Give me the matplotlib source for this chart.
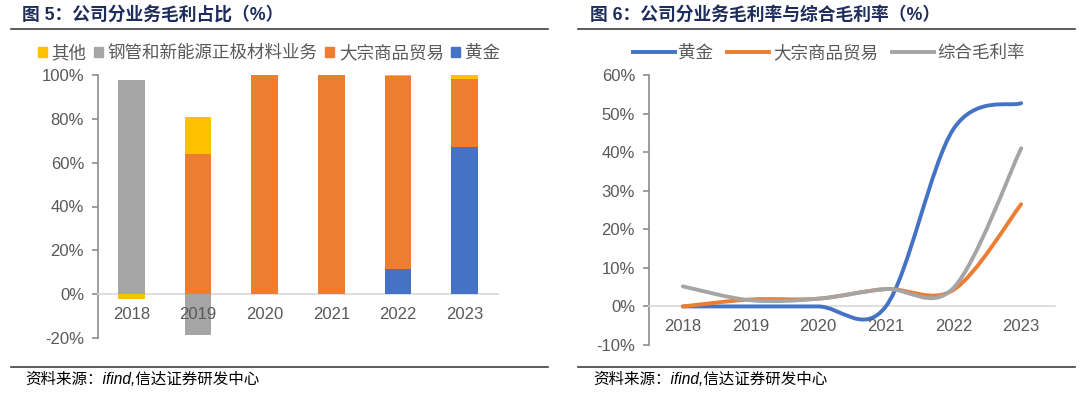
import numpy as np
import matplotlib.pyplot as plt
from matplotlib.lines import Line2D
from matplotlib.path import Path
from matplotlib.patches import PathPatch

plt.rcParams['font.family'] = ['Liberation Sans', 'Noto Sans CJK SC', 'DejaVu Sans']

years = ['2018', '2019', '2020', '2021', '2022', '2023']

# 图5 毛利占比 (%)
share_names = ['其他', '钢管和新能源正极材料业务', '大宗商品贸易', '黄金']
share_other = [-2.0, 16.8, 0.0, 0.0, 0.3, 1.6]
share_pipe = [97.8, -18.8, 0.0, 0.0, 0.0, 0.0]
share_trade = [0.0, 64.0, 100.0, 100.0, 88.3, 31.4]
share_gold = [0.0, 0.0, 0.0, 0.0, 11.4, 67.0]

# 图6 毛利率 (%)
margin_names = ['黄金', '大宗商品贸易', '综合毛利率']
margin_gold = [0.0, 0.0, 0.0, 0.0, 46.0, 52.7]
margin_trade = [0.0, 1.8, 2.0, 4.5, 4.3, 26.5]
margin_total = [5.2, 1.6, 2.0, 4.5, 4.8, 41.0]

c_yellow = '#FFC000'
c_gray = '#A5A5A5'
c_orange = '#ED7D31'
c_blue = '#4472C4'
tick_c = '#595959'
title_c = '#1F2D5C'
W, H = 1080, 395


def fx(px):
    return px / W


def fy(py):
    return 1 - py / H


def smooth_path(xs, ys):
    # Excel-style smoothed line: cubic bezier through each point
    pts = np.column_stack([xs, ys]).astype(float)
    n = len(pts)
    verts = [pts[0]]
    codes = [Path.MOVETO]
    for i in range(n - 1):
        p0 = pts[i - 1] if i > 0 else pts[i]
        p1 = pts[i]
        p2 = pts[i + 1]
        p3 = pts[i + 2] if i + 2 < n else pts[i + 1]
        verts += [p1 + (p2 - p0) / 6, p2 - (p3 - p1) / 6, p2]
        codes += [Path.CURVE4] * 3
    return Path(verts, codes)


def style_axis(ax):
    for s in ['top', 'right']:
        ax.spines[s].set_visible(False)
    ax.spines['left'].set_color('#8C8C8C')
    ax.spines['left'].set_linewidth(1.2)
    ax.spines['bottom'].set_position(('data', 0))
    ax.spines['bottom'].set_color('#D9D9D9')
    ax.spines['bottom'].set_linewidth(1.2)
    ax.tick_params(axis='y', colors='#8C8C8C', labelcolor=tick_c, labelsize=12,
                   length=4, width=1.2, direction='out', pad=6)
    ax.tick_params(axis='x', length=0, labelcolor=tick_c, labelsize=12, pad=9)
    ax.xaxis.set_zorder(4)


fig = plt.figure(figsize=(W / 100, H / 100), dpi=100)

# ---------------- left: stacked bars ----------------
ax1 = fig.add_axes([fx(98), fy(338), fx(400), 263 / H])
x = np.arange(len(years))
pos_bottom = np.zeros(len(years))
neg_bottom = np.zeros(len(years))
series = [(share_gold, c_blue), (share_trade, c_orange),
          (share_pipe, c_gray), (share_other, c_yellow)]
for vals, col in series:
    v = np.array(vals)
    bottom = np.where(v >= 0, pos_bottom, neg_bottom)
    ax1.bar(x, v, 0.4, bottom=bottom, color=col, zorder=3)
    pos_bottom += np.where(v >= 0, v, 0)
    neg_bottom += np.where(v < 0, v, 0)
ax1.set_xlim(-0.5, 5.5)
ax1.set_ylim(-20, 100)
ax1.set_yticks(np.arange(-20, 101, 20))
ax1.set_yticklabels([f'{v}%' for v in range(-20, 101, 20)])
ax1.set_xticks(x)
ax1.set_xticklabels(years)
style_axis(ax1)

handles1 = [plt.Rectangle((0, 0), 1, 1, color=c) for c in [c_yellow, c_gray, c_orange, c_blue]]
fig.legend(handles1, share_names, loc='center left', bbox_to_anchor=(fx(22), fy(53)),
           ncol=4, frameon=False, handlelength=0.5, handleheight=0.5,
           handletextpad=0.3, columnspacing=0.4, labelcolor=tick_c,
           prop={'family': ['Noto Sans CJK SC'], 'size': 12.6})

# ---------------- right: smoothed lines ----------------
ax2 = fig.add_axes([fx(649), fy(345), fx(406), 270 / H])
for vals, col in [(margin_gold, c_blue), (margin_trade, c_orange), (margin_total, c_gray)]:
    ax2.add_patch(PathPatch(smooth_path(x, vals), facecolor='none', edgecolor=col,
                            lw=2.8, capstyle='round', zorder=3))
ax2.set_xlim(-0.5, 5.5)
ax2.set_ylim(-10, 60)
ax2.set_yticks(np.arange(-10, 61, 10))
ax2.set_yticklabels([f'{v}%' for v in range(-10, 61, 10)])
ax2.set_xticks(x)
ax2.set_xticklabels(years)
style_axis(ax2)

handles2 = [Line2D([], [], color=c, lw=2.8) for c in [c_blue, c_orange, c_gray]]
fig.legend(handles2, margin_names, loc='center left', bbox_to_anchor=(fx(617), fy(53)),
           ncol=3, frameon=False, handlelength=2.4, handletextpad=0.2,
           columnspacing=0.8, labelcolor=tick_c,
           prop={'family': ['Noto Sans CJK SC'], 'size': 12.6})

# ---------------- titles, rules, sources ----------------
fig.text(fx(22), fy(15), '图 5：公司分业务毛利占比（%）', fontsize=12.8, fontweight='bold',
         color=title_c, va='center')
fig.text(fx(590), fy(15), '图 6：公司分业务毛利率与综合毛利率（%）', fontsize=12.8,
         fontweight='bold', color=title_c, va='center')
for x0, x1 in [(11, 548), (578, 1075)]:
    fig.add_artist(Line2D([fx(x0), fx(x1)], [fy(29)] * 2, color='#404040', lw=1.2))
    fig.add_artist(Line2D([fx(x0), fx(x1)], [fy(367)] * 2, color='#404040', lw=1.2))
fig.text(fx(25), fy(379), '资料来源：ifind,信达证券研发中心', fontsize=11.2, style='italic',
         va='center')
fig.text(fx(593), fy(379), '资料来源：ifind,信达证券研发中心', fontsize=11.2, style='italic',
         va='center')

fig.savefig('out.png', dpi=100)
